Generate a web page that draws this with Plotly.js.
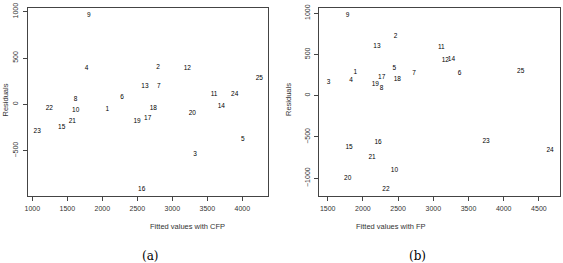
<!DOCTYPE html>
<html><head><meta charset="utf-8">
<script src="https://cdn.plot.ly/plotly-3.0.1.min.js"></script>
<style>html,body{margin:0;padding:0;background:#fff}#c{width:563px;height:263px}</style>
</head><body><div id="c"></div>
<script>
// Panel (a): residuals vs fitted values with CFP
const labelsA = ['9','4','8','1','6','2','7','5','3','22','10','13','18','19','17','12','20','11','14','24','25','15','21','23','16'];
const fittedA = [1806,1777,1620,2071,2281,2796,2806,4006,3324,1243,1620,2610,2729,2496,2649,3214,3286,3596,3700,3891,4243,1420,1571,1071,2563];
const residA  = [964,393,58,-53,80,403,191,-376,-543,-42,-60,191,-39,-182,-154,385,-100,112,-17,105,285,-244,-182,-290,-916];
// Panel (b): residuals vs fitted values with FP
const labelsB = ['3','9','4','1','13','17','19','8','5','2','18','7','11','12','14','6','25','15','16','21','10','20','22','23','24'];
const fittedB = [1514,1784,1832,1893,2200,2267,2176,2267,2448,2466,2490,2726,3114,3170,3258,3374,4241,1804,2216,2131,2449,1784,2327,3750,4658];
const residB  = [162,978,187,279,599,227,142,90,336,720,199,267,590,424,436,267,296,-622,-565,-751,-900,-1001,-1131,-558,-662];
const xTicksA = [1000,1500,2000,2500,3000,3500,4000];
const xTicksB = [1500,2000,2500,3000,3500,4000,4500];
const yTicksA = [-500,0,500,1000];
const yTicksB = [-1000,-500,0,500,1000];

const W=563,H=263;
const tf = {family:'Liberation Sans Narrow, Liberation Sans, Arial, sans-serif', size:6.5, color:'#000'};
const tickf = {family:'Liberation Sans, Arial, sans-serif', size:7, color:'#333'};
const traces = [
 {type:'scatter',mode:'text',x:fittedA,y:residA,text:labelsA,textfont:tf,textposition:'middle center',xaxis:'x',yaxis:'y',hoverinfo:'skip'},
 {type:'scatter',mode:'text',x:fittedB,y:residB,text:labelsB,textfont:tf,textposition:'middle center',xaxis:'x2',yaxis:'y2',hoverinfo:'skip'}
];
const ax = (extra)=>Object.assign({showgrid:false,zeroline:false,showline:true,mirror:true,linecolor:'#444',linewidth:1,
  ticks:'outside',ticklen:4,tickcolor:'#444',tickfont:tickf,tickmode:'array',ticklabelstandoff:2},extra);
const yb=1-196/H, yt=1-7.5/H;
const tfont = {family:'Liberation Sans, Arial, sans-serif',size:7.5,color:'#333'};
const layout = {
 width:W,height:H,margin:{l:0,r:0,t:0,b:0},paper_bgcolor:'#fff',plot_bgcolor:'#fff',showlegend:false,
 xaxis: ax({domain:[28/W,268/W],range:[939,4367],tickvals:xTicksA,anchor:'y'}),
 yaxis: ax({domain:[yb,yt],range:[-988,1045],tickvals:yTicksA,tickangle:-90,anchor:'x'}),
 xaxis2: ax({domain:[319.3/W,560/W],range:[1381,4800],tickvals:xTicksB,anchor:'y2'}),
 yaxis2: ax({domain:[yb,yt],range:[-1216,1069],tickvals:yTicksB,tickangle:-90,anchor:'x2'}),
 annotations:[
  {text:'Fitted values with CFP',xref:'paper',yref:'paper',x:148/W,y:1-226/H,yanchor:'middle',showarrow:false,font:tfont},
  {text:'Fitted values with FP',xref:'paper',yref:'paper',x:428/W,y:1-226/H,yanchor:'middle',showarrow:false,font:tfont},
  {text:'Residuals',xref:'paper',yref:'paper',x:0,xanchor:'left',y:1-100/H,textangle:-90,showarrow:false,font:tfont,borderpad:0},
  {text:'Residuals',xref:'paper',yref:'paper',x:289/W,y:1-100/H,textangle:-90,showarrow:false,font:tfont},
  {text:'(a)',xref:'paper',yref:'paper',x:140/W,y:1-256/H,yanchor:'middle',showarrow:false,font:{family:'DejaVu Serif, Liberation Serif, serif',size:12,color:'#000'}},
  {text:'(b)',xref:'paper',yref:'paper',x:428/W,y:1-256/H,yanchor:'middle',showarrow:false,font:{family:'DejaVu Serif, Liberation Serif, serif',size:12,color:'#000'}}
 ]
};
Plotly.newPlot('c',traces,layout,{staticPlot:true,displayModeBar:false});
</script></body></html>
